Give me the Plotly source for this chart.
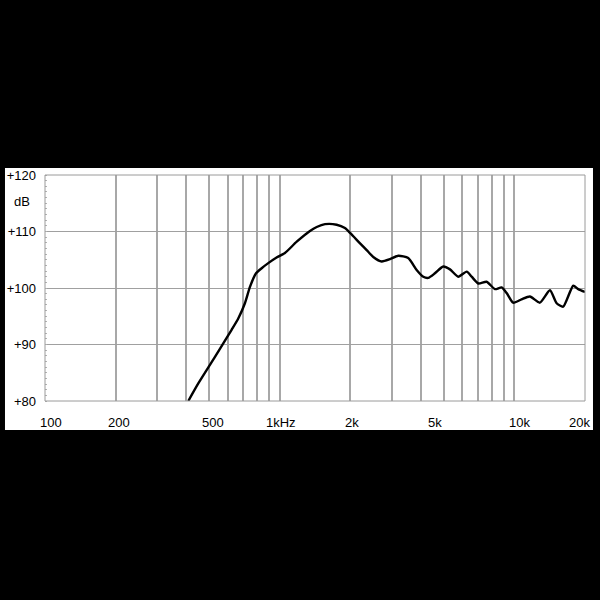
import math
import plotly.graph_objects as go

# Frequency response (Hz, dB SPL)
freq_hz = [408, 450, 489, 530, 575, 624, 666, 711, 747, 793, 838, 894, 970, 1053,
           1182, 1346, 1438, 1560, 1749, 1897, 2000, 2200, 2348, 2505, 2720, 2952,
           3202, 3530, 3834, 4092, 4300, 4587, 4977, 5316, 5768, 6265, 6577, 7020,
           7620, 8266, 8825, 9270, 9890, 10730, 11650, 12840, 14180, 15140, 16150,
           17820, 18720, 20000]
spl_db = [80.0, 83.1, 85.5, 87.8, 90.2, 92.6, 94.6, 97.3, 100.2, 102.6, 103.5, 104.4,
          105.4, 106.2, 108.2, 110.1, 110.8, 111.3, 111.2, 110.6, 109.7, 107.9, 106.7,
          105.5, 104.7, 105.1, 105.7, 105.3, 103.2, 102.0, 101.8, 102.6, 103.8, 103.3,
          102.0, 102.9, 102.0, 100.8, 101.1, 99.8, 100.1, 99.1, 97.4, 98.0, 98.5, 97.4,
          99.6, 97.3, 96.7, 100.4, 99.8, 99.3]

grid_freqs = [200, 300, 400, 500, 600, 700, 800, 900, 1000,
              2000, 3000, 4000, 5000, 6000, 7000, 8000, 9000, 10000]
x_label_freqs = [100, 200, 500, 1000, 2000, 5000, 10000, 20000]
x_label_text = ["100", "200", "500", "1kHz", "2k", "5k", "10k", "20k"]
x_label_shift = [6, 3, 4, 1, 2, -9, 5, 7]
x_label_anchor = ["center"] * 7 + ["right"]
y_tick_vals = [80, 90, 100, 110, 120]
y_tick_text = ["+80", "+90", "+100", "+110", "+120"]

FONT = "Liberation Sans, Arial, sans-serif"

fig = go.Figure()
fig.add_trace(go.Scatter(
    x=freq_hz, y=spl_db, mode="lines",
    line=dict(color="black", width=2.4, shape="spline", smoothing=0.6),
    hoverinfo="skip", showlegend=False, cliponaxis=True,
))

# white panel behind the chart
fig.add_shape(type="rect", xref="paper", yref="paper",
              x0=-0.0741, x1=1.0148, y0=-0.128, y1=1.031,
              fillcolor="white", line=dict(width=0), layer="below")
# plot border
fig.add_shape(type="rect", xref="paper", yref="paper",
              x0=0, x1=1, y0=0, y1=1,
              line=dict(color="#9a9a9a", width=1), layer="above")

for f, t, s, a in zip(x_label_freqs, x_label_text, x_label_shift, x_label_anchor):
    fig.add_annotation(x=math.log10(f), y=-0.093, xref="x", yref="paper",
                       text=t, showarrow=False, xshift=s,
                       xanchor=a, yanchor="middle",
                       font=dict(family=FONT, size=13, color="black"))

fig.add_annotation(x=-0.024, y=0.882, xref="paper", yref="paper", text="dB",
                   showarrow=False, xanchor="right", yanchor="middle",
                   font=dict(family=FONT, size=13, color="black"))

fig.update_xaxes(type="log", range=[2, math.log10(20000)],
                 tickvals=grid_freqs, showticklabels=False, ticks="",
                 showgrid=True, gridcolor="#a8a8a8", gridwidth=1.5,
                 zeroline=False, showline=False, fixedrange=True)
fig.update_yaxes(range=[80, 120], tickvals=y_tick_vals, ticktext=y_tick_text,
                 showgrid=True, gridcolor="#a0a0a0", gridwidth=1,
                 ticks="", ticklabelstandoff=8,
                 tickfont=dict(family=FONT, size=13, color="black"),
                 minor=dict(dtick=1, ticks="inside", ticklen=2, tickcolor="#b0b0b0",
                            showgrid=False),
                 zeroline=False, showline=False, fixedrange=True)

fig.update_layout(width=600, height=600,
                  margin=dict(l=45, r=15, t=175, b=199, autoexpand=False),
                  paper_bgcolor="black", plot_bgcolor="white",
                  showlegend=False)

fig.write_html(
    "out.html",
    config={"displayModeBar": False},
    post_script="document.body.style.margin='0';document.body.style.background='black';",
)
